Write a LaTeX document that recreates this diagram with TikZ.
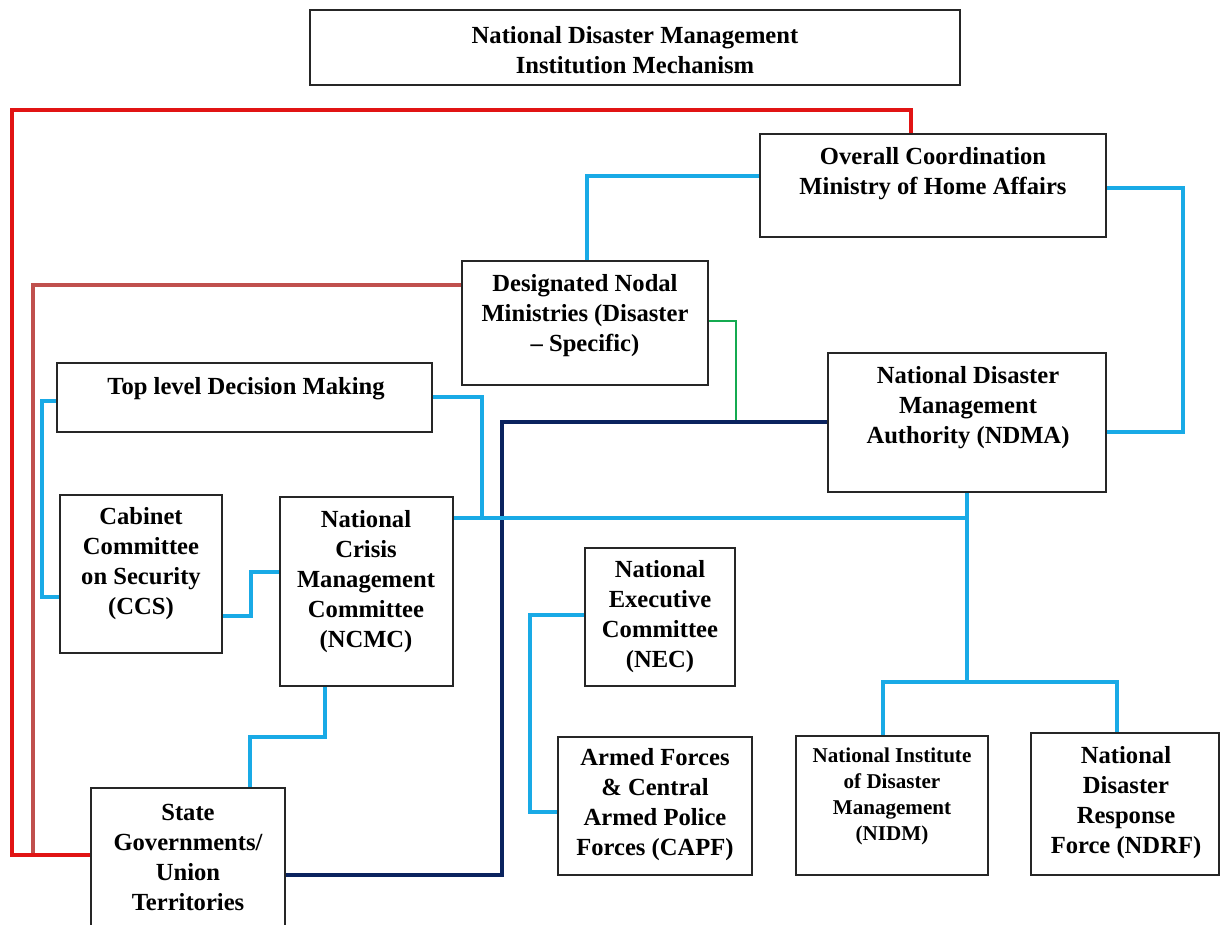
\documentclass[tikz,border=0pt]{standalone}
\usepackage{fontspec}
\setmainfont{Liberation Serif}
\definecolor{lnblue}{RGB}{25,170,230}
\definecolor{lnred}{RGB}{225,20,20}
\definecolor{lnrose}{RGB}{192,80,77}
\definecolor{lnnavy}{RGB}{10,35,95}
\definecolor{lngreen}{RGB}{20,170,80}
\tikzset{
  box/.style 2 args={draw=black!85, line width=1.1pt, fill=white, inner sep=0pt, outer sep=0pt,
    minimum width=#1*0.02cm, minimum height=#2*0.02cm},
  txt/.style={align=center, inner sep=0pt, font=\fontsize{14}{17.07}\selectfont\bfseries},
  smalltxt/.style={align=center, inner sep=0pt, font=\fontsize{12}{14.8}\selectfont\bfseries},
  wire/.style={line width=2.2pt, line join=miter},
}
\begin{document}
\begin{tikzpicture}[x=0.02cm, y=-0.02cm]
\useasboundingbox (0,0) rectangle (1221,924);
% boxes (empty frames)
\node[box={650}{75}]  (title) at (635,47.5) {};
\node[box={346}{103}] (mha)   at (933,185.5) {};
\node[box={246}{124}] (dnm)   at (585,323) {};
\node[box={278}{139}] (ndma)  at (967,422.5) {};
\node[box={375}{69}]  (tldm)  at (244.5,397.5) {};
\node[box={162}{158}] (ccs)   at (141,574) {};
\node[box={173}{189}] (ncmc)  at (366.5,591.5) {};
\node[box={150}{138}] (nec)   at (660,617) {};
\node[box={194}{138}] (capf)  at (655,806) {};
\node[box={192}{139}] (nidm)  at (892,805.5) {};
\node[box={188}{142}] (ndrf)  at (1125,804) {};
\node[box={194}{138}] (state) at (188,857) {};
\coordinate (hub) at (ndma.south |- 0,518);
\coordinate (fork) at (ndma.south |- 0,682);

% connectors
\draw[wire, lnrose] (dnm.west |- 0,285) -- (33,285) -- (33,855);
\draw[wire, lnred] (mha.north -| 911,0) -- (911,110) -- (12,110) -- (12,855) -- (state.west |- 0,855);
\draw[wire, lnblue] (mha.west |- 0,176) -- (587,176) -- (dnm.north -| 587,0);
\draw[wire, lnblue] (mha.east |- 0,188) -- (1183,188) -- (1183,432) -- (ndma.east |- 0,432);
\draw[wire, lngreen, line width=1.5pt] (dnm.east |- 0,321) -- (736,321) -- (736,422);
\draw[wire, lnnavy] (ndma.west |- 0,422) -- (502,422) -- (502,875) -- (state.east |- 0,875);
\draw[wire, lnblue] (tldm.west |- 0,401) -- (42,401) -- (42,597) -- (ccs.west |- 0,597);
\draw[wire, lnblue] (tldm.east |- 0,397) -- (482,397) -- (482,518);
\draw[wire, lnblue] (ncmc.east |- 0,518) -- (hub);
\draw[wire, lnblue] (ndma.south) -- (fork);
\draw[wire, lnblue] (nidm.north -| 883,0) -- (883,682) -- (1117,682) -- (ndrf.north -| 1117,0);
\draw[wire, lnblue] (ccs.east |- 0,616) -- (251,616) -- (251,572) -- (ncmc.west |- 0,572);
\draw[wire, lnblue] (ncmc.south -| 325,0) -- (325,737) -- (250,737) -- (state.north -| 250,0);
\draw[wire, lnblue] (nec.west |- 0,615) -- (530,615) -- (530,812) -- (capf.west |- 0,812);

% redraw frames on top of the wire ends
\foreach \n in {title,mha,dnm,ndma,tldm,ccs,ncmc,nec,capf,nidm,ndrf,state}
  \draw[draw=black!85, line width=1.1pt] (\n.north west) rectangle (\n.south east);

% texts
\node[txt] (titleT) at (635,50) {National Disaster Management\\Institution Mechanism};
\node[txt] (mhaT)   at (933,174) {Overall Coordination\\Ministry of Home Affairs};
\node[txt] (dnmT)   at (585,316) {Designated Nodal\\Ministries (Disaster\\– Specific)};
\node[txt] (ndmaT)  at (968,408) {National Disaster\\Management\\Authority (NDMA)};
\node[txt] (tldmT)  at (246,389) {Top level Decision Making};
\node[txt] (ccsT)   at (141,564) {Cabinet\\Committee\\on Security\\(CCS)};
\node[txt] (ncmcT)  at (366,582) {National\\Crisis\\Management\\Committee\\(NCMC)};
\node[txt] (necT)   at (660,617) {National\\Executive\\Committee\\(NEC)};
\node[txt] (capfT)  at (655,805) {Armed Forces\\\& Central\\Armed Police\\Forces (CAPF)};
\node[smalltxt] (nidmT) at (892,796) {National Institute\\of Disaster\\Management\\(NIDM)};
\node[txt] (ndrfT)  at (1126,803) {National\\Disaster\\Response\\Force (NDRF)};
\node[txt] (stateT) at (188,857) {State\\Governments/\\Union\\Territories};
\end{tikzpicture}
\end{document}
